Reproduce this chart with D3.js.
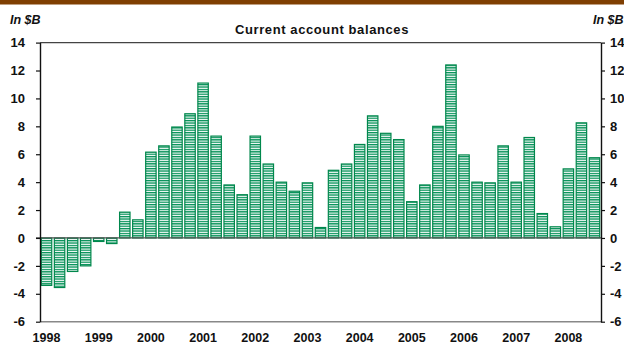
<!DOCTYPE html>
<html>
<head>
<meta charset="utf-8">
<script src="https://cdn.jsdelivr.net/npm/d3@7"></script>
<style>
  html, body { margin: 0; padding: 0; background: #fff; }
  svg { display: block; }
  text { font-family: "Liberation Sans", Arial, sans-serif; font-weight: bold; fill: #111; }
</style>
</head>
<body>
<svg id="chart" width="624" height="345"></svg>
<script>
// Quarterly current account balance, in billions of dollars (1998 Q1 – 2008 Q3)
const years = ["1998","1999","2000","2001","2002","2003","2004","2005","2006","2007","2008"];
const quarters = ["Q1","Q2","Q3","Q4"];
const periods = years.flatMap(y => quarters.map(q => y + q)).slice(0, 43);
const balances = [
  -3.4, -3.55, -2.4, -2.0,
  -0.25, -0.4, 1.85, 1.3,
  6.15, 6.6, 7.95, 8.9,
  11.1, 7.3, 3.8, 3.1,
  7.3, 5.3, 4.0, 3.35,
  3.95, 0.75, 4.85, 5.3,
  6.7, 8.75, 7.5, 7.05,
  2.6, 3.8, 8.0, 12.4,
  5.95, 4.0, 3.95, 6.6,
  4.0, 7.2, 1.75, 0.8,
  4.95, 8.25, 5.75
];
const yTicks = [-6, -4, -2, 0, 2, 4, 6, 8, 10, 12, 14];

const svg = d3.select("#chart");
const plotLeft = 40, plotRight = 601, plotTop = 42.6, plotBottom = 321.7;

const x = d3.scaleBand().domain(periods).range([plotLeft, plotRight]).paddingInner(0.2).paddingOuter(0.1);
const y = d3.scaleLinear().domain([-6, 14]).range([plotBottom, plotTop]);

// Horizontal stripe fill for the bars
const defs = svg.append("defs");
const pat = defs.append("pattern")
  .attr("id", "stripes").attr("patternUnits", "userSpaceOnUse")
  .attr("width", 8).attr("height", 2.4);
pat.append("rect").attr("width", 8).attr("height", 2.4).attr("fill", "#fff");
pat.append("rect").attr("width", 8).attr("height", 1.3).attr("fill", "#008f55");

// Brown band across the top
svg.append("rect").attr("x", 0).attr("y", 0).attr("width", 624).attr("height", 4.5).attr("fill", "#7f3f02");

// Title and unit labels
svg.append("text").attr("x", 322).attr("y", 33.5).attr("text-anchor", "middle")
  .style("font-size", "13px").style("letter-spacing", "0.6px").text("Current account balances");
svg.append("text").attr("x", 10).attr("y", 23.5).style("font-size", "12.5px").style("font-style", "italic").text("In $B");
svg.append("text").attr("x", 593).attr("y", 23.5).style("font-size", "12.5px").style("font-style", "italic").text("In $B");

// Frame lines: top and bottom
svg.append("line").attr("x1", plotLeft).attr("x2", plotRight).attr("y1", y(14)).attr("y2", y(14))
  .attr("stroke", "#444").attr("stroke-width", 1.2);
svg.append("line").attr("x1", plotLeft).attr("x2", plotRight).attr("y1", y(-6)).attr("y2", y(-6))
  .attr("stroke", "#888").attr("stroke-width", 1.5);

// Bars
svg.append("g").selectAll("rect").data(balances).join("rect")
  .attr("x", (d, i) => x(periods[i]))
  .attr("width", x.bandwidth())
  .attr("y", d => y(Math.max(0, d)))
  .attr("height", d => Math.abs(y(d) - y(0)))
  .attr("fill", "url(#stripes)")
  .attr("stroke", "#00874c")
  .attr("stroke-width", 1.2);

// Zero line
svg.append("line").attr("x1", plotLeft - 4).attr("x2", plotRight).attr("y1", y(0)).attr("y2", y(0))
  .attr("stroke", "#555").attr("stroke-width", 1.3);

// Left and right value axes (plain hyphen for negatives)
const fmt = d => String(d);
const leftAxis = svg.append("g").attr("transform", `translate(${plotLeft},0)`)
  .call(d3.axisLeft(y).tickValues(yTicks).tickFormat(fmt).tickSize(4).tickPadding(11).tickSizeOuter(0));
const rightAxis = svg.append("g").attr("transform", `translate(${plotRight},0)`)
  .call(d3.axisRight(y).tickValues(yTicks).tickFormat(fmt).tickSize(4).tickPadding(5).tickSizeOuter(0));
[leftAxis, rightAxis].forEach(g => {
  g.select(".domain").attr("stroke", "#111").attr("stroke-width", 1.4);
  g.selectAll(".tick line").attr("stroke", "#111").attr("stroke-width", 1.2);
  g.selectAll(".tick text").attr("fill", "#111")
    .style("font-family", '"Liberation Sans", Arial, sans-serif')
    .style("font-weight", "bold").style("font-size", "13px");
});

// Year labels under each first-quarter bar
const xAxis = svg.append("g").attr("transform", `translate(0,${plotBottom})`)
  .call(d3.axisBottom(x).tickValues(years.map(yr => yr + "Q1")).tickFormat(d => d.slice(0, 4))
    .tickSize(0).tickPadding(11));
xAxis.select(".domain").remove();
xAxis.selectAll(".tick text").attr("fill", "#111")
  .style("font-family", '"Liberation Sans", Arial, sans-serif')
  .style("font-weight", "bold").style("font-size", "12.5px");
</script>
</body>
</html>
